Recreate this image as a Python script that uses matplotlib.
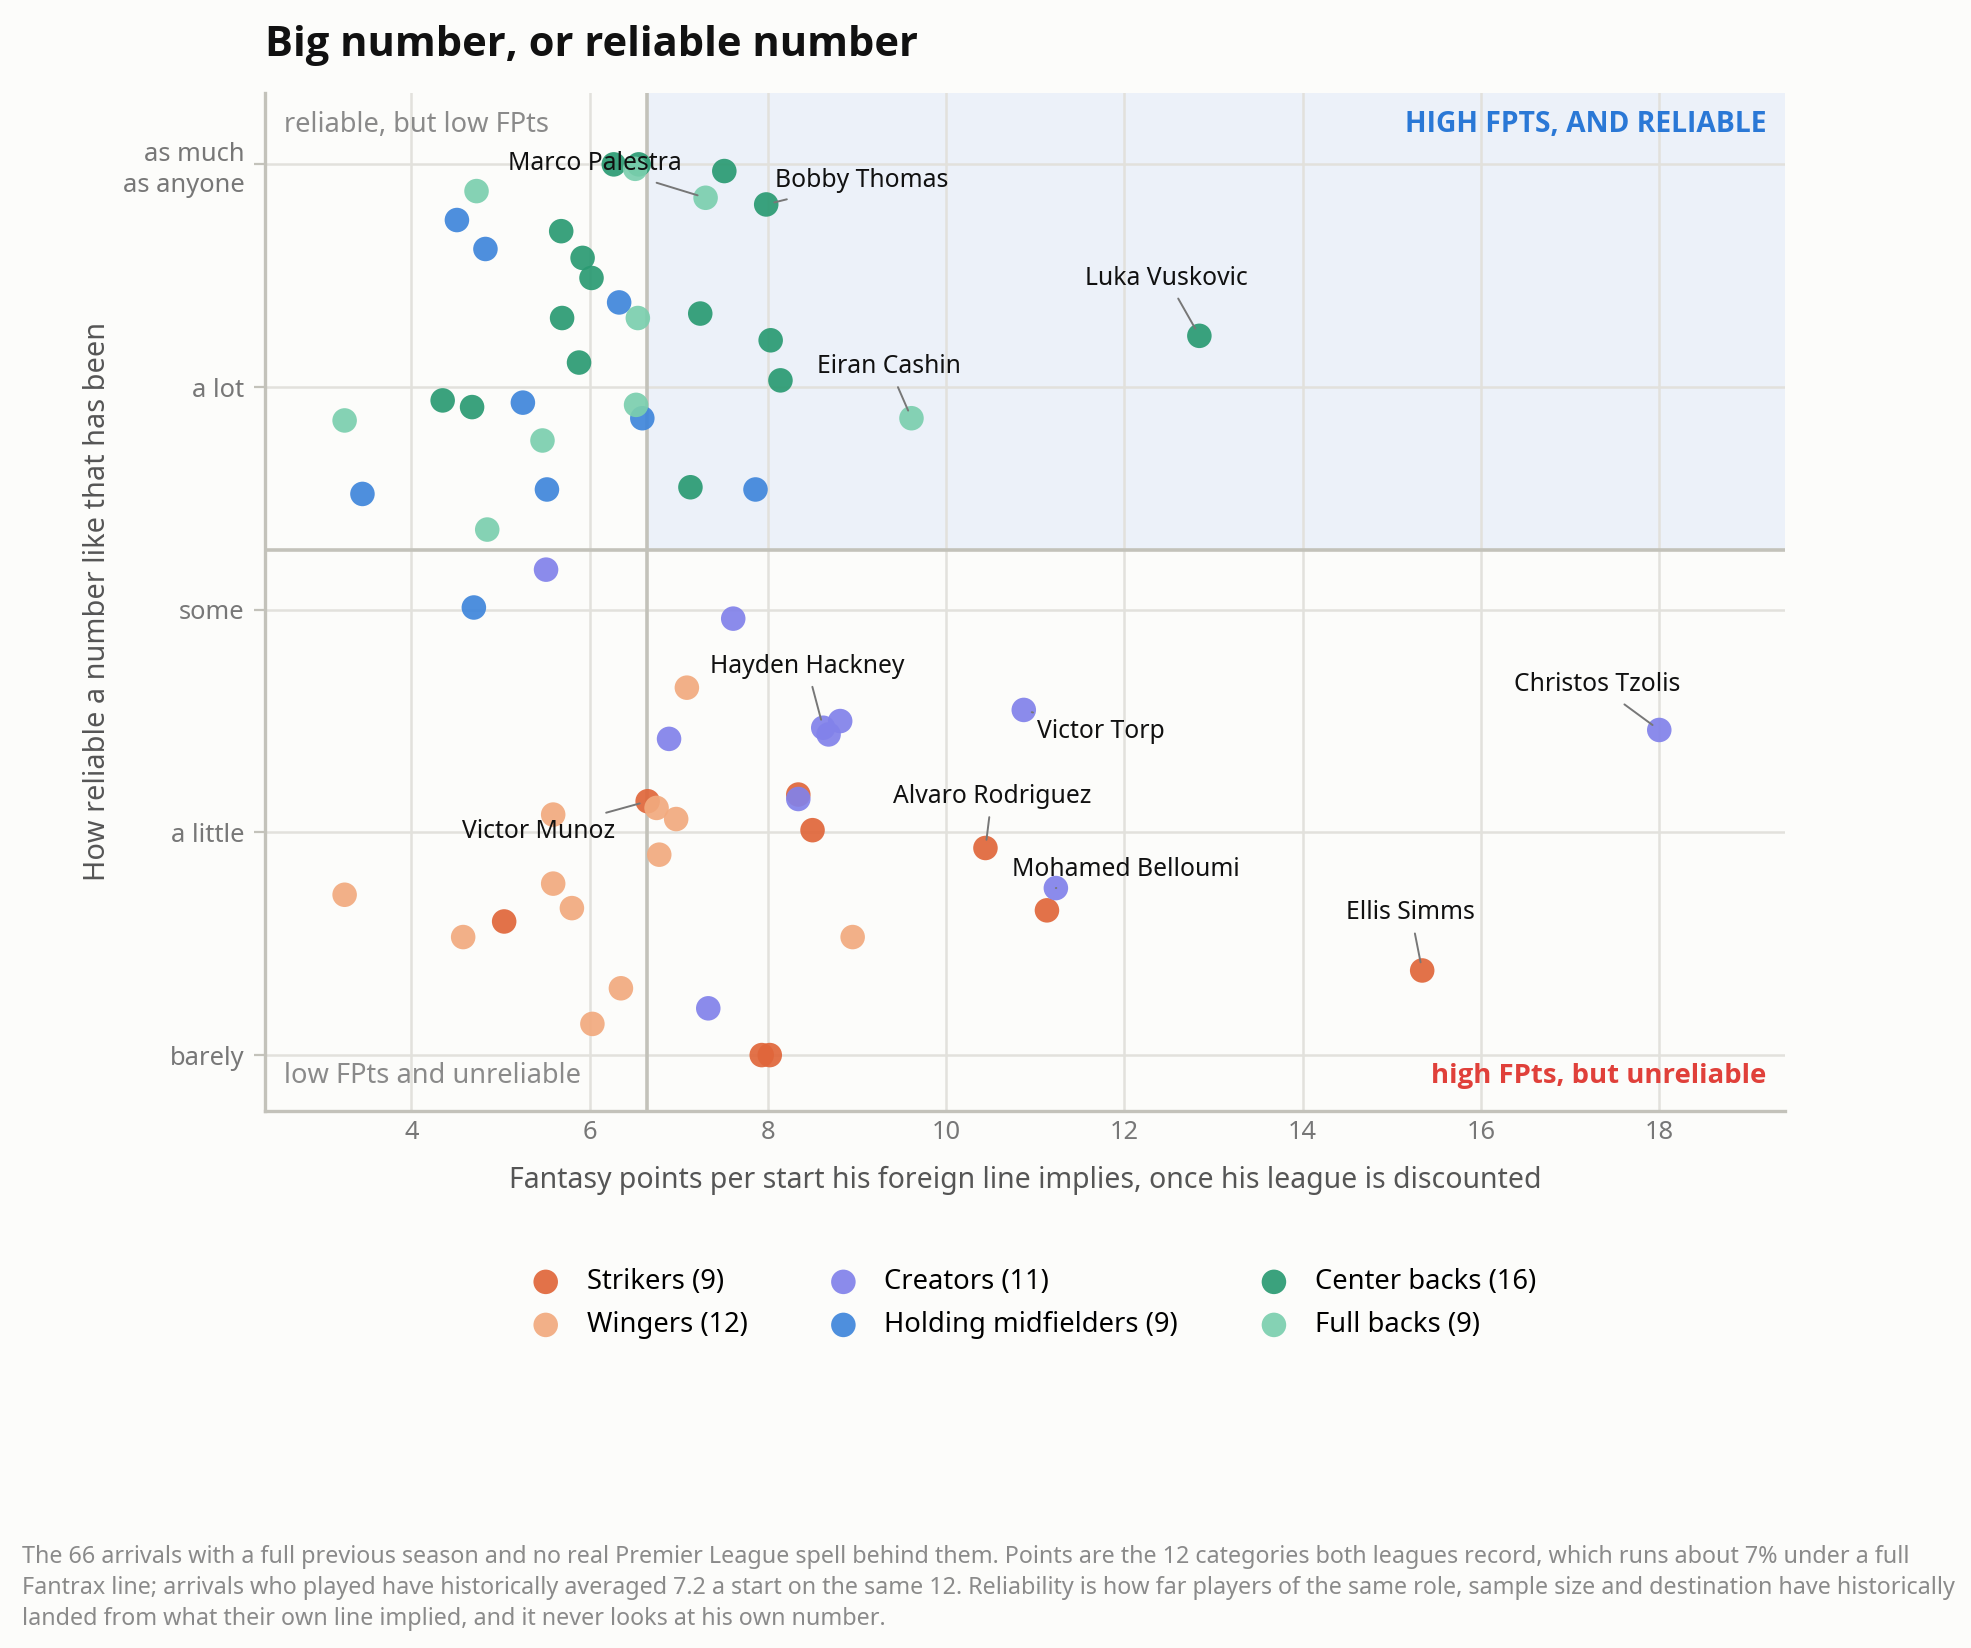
import matplotlib
matplotlib.use("Agg")
from matplotlib import pyplot as plt

# ---- data ----
strikers_x = [6.65, 8.34, 8.50, 10.44, 11.13, 15.34, 5.04, 7.93, 8.02]
strikers_y = [1.14, 1.17, 1.01, 0.93, 0.65, 0.38, 0.60, 0.00, 0.00]

wingers_x = [7.09, 5.59, 6.75, 6.97, 6.78, 3.25, 5.59, 5.80, 4.58, 8.95, 6.35, 6.03]
wingers_y = [1.65, 1.08, 1.11, 1.06, 0.90, 0.72, 0.77, 0.66, 0.53, 0.53, 0.30, 0.14]

creators_x = [5.51, 7.61, 6.89, 8.62, 8.81, 8.68, 10.87, 18.00, 8.34, 11.23, 7.33]
creators_y = [2.18, 1.96, 1.42, 1.47, 1.50, 1.44, 1.55, 1.46, 1.15, 0.75, 0.21]

holding_x = [4.51, 4.83, 6.33, 5.25, 6.59, 3.45, 5.52, 7.86, 4.70]
holding_y = [3.75, 3.62, 3.38, 2.93, 2.86, 2.52, 2.54, 2.54, 2.01]

centre_x = [6.27, 6.55, 7.51, 7.98, 5.68, 5.92, 6.02, 5.69, 7.24, 8.03, 12.84, 5.88, 8.14, 4.35, 4.68, 7.13]
centre_y = [4.00, 4.00, 3.97, 3.82, 3.70, 3.58, 3.49, 3.31, 3.33, 3.21, 3.23, 3.11, 3.03, 2.94, 2.91, 2.55]

full_x = [6.51, 4.73, 7.30, 6.54, 3.25, 6.52, 5.47, 9.61, 4.85]
full_y = [3.98, 3.88, 3.85, 3.31, 2.85, 2.92, 2.76, 2.86, 2.36]

group_names = ["Strikers", "Wingers", "Creators", "Holding midfielders", "Center backs", "Full backs"]
group_colors = ["#e0663a", "#f2aa7e", "#8282ea", "#3f86db", "#2a9a72", "#7bcfae"]

# labelled players: name, group index, index within group
labelled = [
    ("Marco Palestra", 5, 2),
    ("Bobby Thomas", 4, 3),
    ("Luka Vuskovic", 4, 10),
    ("Eiran Cashin", 5, 7),
    ("Hayden Hackney", 2, 3),
    ("Victor Torp", 2, 6),
    ("Christos Tzolis", 2, 7),
    ("Victor Munoz", 0, 0),
    ("Alvaro Rodriguez", 0, 3),
    ("Mohamed Belloumi", 2, 9),
    ("Ellis Simms", 0, 5),
]

y_ticks = [0, 1, 2, 3, 4]
y_ticklabels = ["barely", "a little", "some", "a lot", "as much\nas anyone"]
x_ticks = [4, 6, 8, 10, 12, 14, 16, 18]

x_split = 6.64
y_split = 2.27

# ---- figure ----
plt.rcParams['font.family'] = ['Noto Sans', 'DejaVu Sans']
bold_font = ['Open Sans', 'Lato', 'DejaVu Sans']
bg = "#fcfcfa"
fig = plt.figure(figsize=(9.855, 8.24), dpi=200, facecolor=bg)
ax = fig.add_axes([0.1346, 0.326, 0.771, 0.6175])
ax.set_facecolor(bg)

xmin, xmax = 2.36, 19.41
ymin, ymax = -0.25, 4.32
ax.set_xlim(xmin, xmax)
ax.set_ylim(ymin, ymax)

ax.fill_between([x_split, xmax], y_split, ymax, color="#ecf1f9", zorder=0, lw=0)
ax.grid(True, color="#e2e1dc", lw=0.9, zorder=0.5)
ax.set_axisbelow(True)
ax.axvline(x_split, color="#c3c2ba", lw=1.3, zorder=1)
ax.axhline(y_split, color="#c3c2ba", lw=1.3, zorder=1)

xs = [strikers_x, wingers_x, creators_x, holding_x, centre_x, full_x]
ys = [strikers_y, wingers_y, creators_y, holding_y, centre_y, full_y]
for gx, gy, name, col in zip(xs, ys, group_names, group_colors):
    ax.scatter(gx, gy, s=78, color=col, alpha=0.92, edgecolors="none", zorder=3,
               label="%s (%d)" % (name, len(gx)))

offsets = {
    "Marco Palestra": (-39.8, 12.2),
    "Bobby Thomas": (34.4, 8.6),
    "Luka Vuskovic": (-11.8, 20.8),
    "Eiran Cashin": (-8.1, 18.6),
    "Hayden Hackney": (-5.9, 22.2),
    "Victor Torp": (27.6, -7.7),
    "Christos Tzolis": (-22.2, 16.3),
    "Victor Munoz": (-39.4, -10.9),
    "Alvaro Rodriguez": (2.3, 18.6),
    "Mohamed Belloumi": (25.3, 6.8),
    "Ellis Simms": (-4.1, 20.8),
}
for name, g, i in labelled:
    ax.annotate(name, xy=(xs[g][i], ys[g][i]), xytext=offsets[name], textcoords="offset points",
                ha="center", va="center", fontsize=8.9, color="#111111", zorder=5,
                arrowprops=dict(arrowstyle="-", color="#777777", lw=0.7, shrinkA=1, shrinkB=3))

# quadrant notes
ax.text(0.0124, 0.969, "reliable, but low FPts", transform=ax.transAxes, ha="left", va="center",
        fontsize=9.8, color="#8a8a8a")
ax.text(0.9876, 0.969, "HIGH FPTS, AND RELIABLE", transform=ax.transAxes, ha="right", va="center",
        fontsize=10.2, color="#2a78d6", fontweight="bold", family=bold_font)
ax.text(0.0124, 0.0346, "low FPts and unreliable", transform=ax.transAxes, ha="left", va="center",
        fontsize=9.8, color="#8a8a8a")
ax.text(0.9876, 0.0346, "high FPts, but unreliable", transform=ax.transAxes, ha="right", va="center",
        fontsize=9.9, color="#e0403a", fontweight="bold", family=bold_font)

ax.set_xticks(x_ticks)
ax.set_yticks(y_ticks)
ax.set_yticklabels(y_ticklabels, linespacing=1.3)
ax.tick_params(axis="both", colors="#c3c2ba", labelcolor="#777777", labelsize=9.2, length=4, width=0.8)
ax.tick_params(axis="x", length=0)

for s in ["top", "right"]:
    ax.spines[s].set_visible(False)
for s in ["left", "bottom"]:
    ax.spines[s].set_color("#c3c2ba")
    ax.spines[s].set_linewidth(1.2)

ax.set_xlabel("Fantasy points per start his foreign line implies, once his league is discounted",
              fontsize=10.25, color="#555555", labelpad=7.5)
ax.set_ylabel("How reliable a number like that has been", fontsize=10.4, color="#555555", labelpad=4)

fig.text(0.1346, 0.985, "Big number, or reliable number", ha="left", va="top",
         fontsize=15, fontweight="bold", color="#111111", family=bold_font)

fig.legend(loc="center", bbox_to_anchor=(0.5212, 0.209), ncol=3, frameon=False, fontsize=9.85,
           columnspacing=2.5, handletextpad=0.5, labelspacing=0.55, markerscale=1.0)

note = ("The 66 arrivals with a full previous season and no real Premier League spell behind them. "
        "Points are the 12 categories both leagues record, which runs about 7% under a full\n"
        "Fantrax line; arrivals who played have historically averaged 7.2 a start on the same 12. "
        "Reliability is how far players of the same role, sample size and destination have historically\n"
        "landed from what their own line implied, and it never looks at his own number.")
fig.text(0.011, 0.0625, note, ha="left", va="top", fontsize=8.4, color="#8a8a8a", linespacing=1.4)

fig.savefig("out.png", dpi=200, facecolor=bg)
